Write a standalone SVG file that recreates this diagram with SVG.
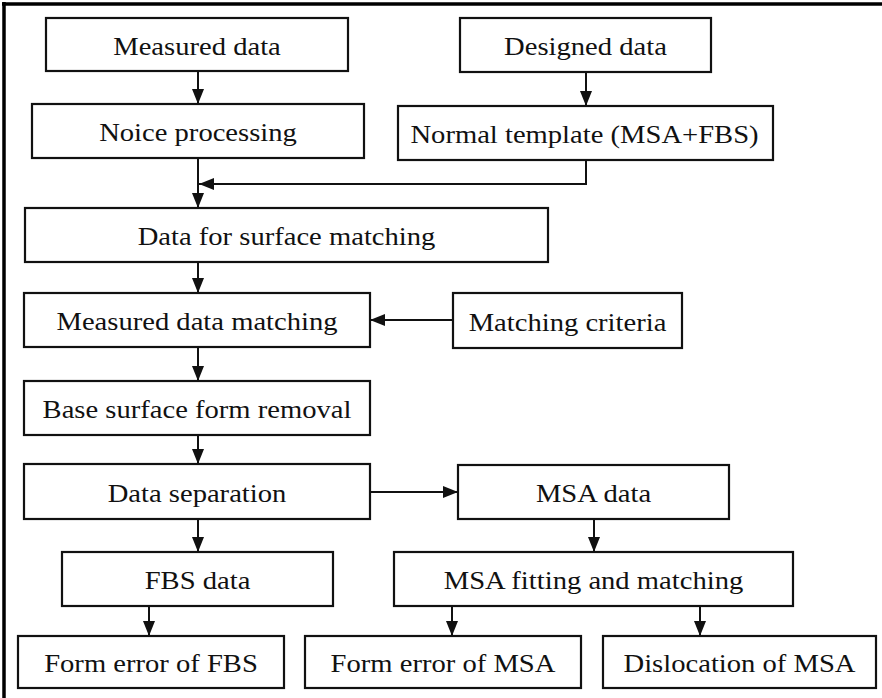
<svg xmlns="http://www.w3.org/2000/svg" width="882" height="698" viewBox="0 0 882 698">
<defs>
<style>
.box{fill:#fff;stroke:#111;stroke-width:2.2}
.lbl{font-family:"Liberation Serif","Times New Roman",serif;font-size:26px;fill:#111;text-anchor:middle}
.con{fill:none;stroke:#111;stroke-width:2}
.frame{stroke:#000;stroke-width:3.5}
</style>
<marker id="ah" viewBox="0 0 15 12" refX="15" refY="6" markerWidth="15" markerHeight="12" markerUnits="userSpaceOnUse" orient="auto">
<path d="M0,0 L15,6 L0,12 z" fill="#111"/>
</marker>
</defs>
<rect width="882" height="698" fill="#fff"/>
<line class="frame" x1="2" y1="4" x2="882" y2="4"/>
<line class="frame" x1="4" y1="2" x2="4" y2="698"/>

<g id="connectors">
<line class="con" x1="198" y1="71" x2="198" y2="104" marker-end="url(#ah)"/>
<line class="con" x1="586" y1="72" x2="586" y2="106" marker-end="url(#ah)"/>
<polyline class="con" points="586,160 586,184 199,184" marker-end="url(#ah)"/>
<line class="con" x1="198" y1="158" x2="198" y2="208" marker-end="url(#ah)"/>
<line class="con" x1="198" y1="262" x2="198" y2="293" marker-end="url(#ah)"/>
<line class="con" x1="453" y1="320" x2="370" y2="320" marker-end="url(#ah)"/>
<line class="con" x1="198" y1="347" x2="198" y2="381" marker-end="url(#ah)"/>
<line class="con" x1="198" y1="434" x2="198" y2="464" marker-end="url(#ah)"/>
<line class="con" x1="370" y1="492" x2="458" y2="492" marker-end="url(#ah)"/>
<line class="con" x1="198" y1="519" x2="198" y2="552" marker-end="url(#ah)"/>
<line class="con" x1="594" y1="519" x2="594" y2="552" marker-end="url(#ah)"/>
<line class="con" x1="149" y1="606" x2="149" y2="636" marker-end="url(#ah)"/>
<line class="con" x1="452" y1="606" x2="452" y2="636" marker-end="url(#ah)"/>
<line class="con" x1="700" y1="606" x2="700" y2="636" marker-end="url(#ah)"/>
</g>

<g id="measured-data"><rect class="box" x="46" y="18" width="302" height="53"/><text class="lbl" transform="translate(197,54.5) scale(1.1,1)">Measured data</text></g>
<g id="noice-processing"><rect class="box" x="32" y="104" width="332" height="54"/><text class="lbl" transform="translate(198,141) scale(1.1,1)">Noice processing</text></g>
<g id="designed-data"><rect class="box" x="460" y="18" width="251" height="54"/><text class="lbl" transform="translate(585.5,55) scale(1.1,1)">Designed data</text></g>
<g id="normal-template"><rect class="box" x="398" y="106" width="375" height="54"/><text class="lbl" transform="translate(584.5,143) scale(1.1,1)">Normal template (MSA+FBS)</text></g>
<g id="data-surface-matching"><rect class="box" x="25" y="208" width="523" height="54"/><text class="lbl" transform="translate(286.5,245) scale(1.1,1)">Data for surface matching</text></g>
<g id="measured-data-matching"><rect class="box" x="24" y="293" width="346" height="54"/><text class="lbl" transform="translate(197,330) scale(1.1,1)">Measured data matching</text></g>
<g id="matching-criteria"><rect class="box" x="453" y="293" width="229" height="55"/><text class="lbl" transform="translate(567.5,330.5) scale(1.1,1)">Matching criteria</text></g>
<g id="base-surface-form-removal"><rect class="box" x="24" y="381" width="346" height="54"/><text class="lbl" transform="translate(197,418) scale(1.1,1)">Base surface form removal</text></g>
<g id="data-separation"><rect class="box" x="24" y="464" width="346" height="55"/><text class="lbl" transform="translate(197,501.5) scale(1.1,1)">Data separation</text></g>
<g id="msa-data"><rect class="box" x="458" y="465" width="271" height="54"/><text class="lbl" transform="translate(593.5,502) scale(1.1,1)">MSA data</text></g>
<g id="fbs-data"><rect class="box" x="62" y="552" width="271" height="54"/><text class="lbl" transform="translate(197.5,589) scale(1.1,1)">FBS data</text></g>
<g id="msa-fitting"><rect class="box" x="394" y="552" width="399" height="54"/><text class="lbl" transform="translate(593.5,589) scale(1.1,1)">MSA fitting and matching</text></g>
<g id="form-error-fbs"><rect class="box" x="18" y="636" width="266" height="52"/><text class="lbl" transform="translate(151,672) scale(1.1,1)">Form error of FBS</text></g>
<g id="form-error-msa"><rect class="box" x="305" y="636" width="276" height="52"/><text class="lbl" transform="translate(443,672) scale(1.1,1)">Form error of MSA</text></g>
<g id="dislocation-msa"><rect class="box" x="603" y="636" width="273" height="52"/><text class="lbl" transform="translate(739.5,672) scale(1.1,1)">Dislocation of MSA</text></g>
</svg>
